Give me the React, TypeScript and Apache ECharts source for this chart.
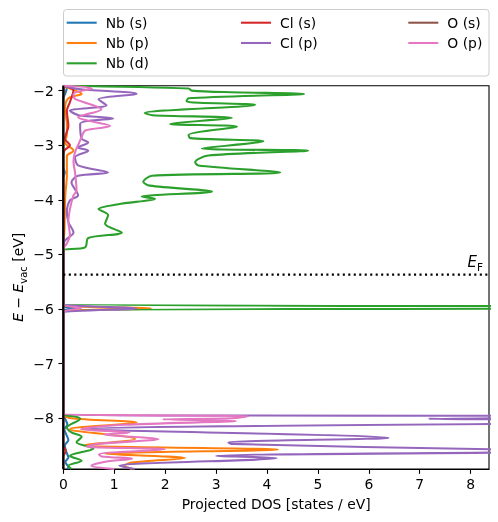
import React, { useEffect, useRef } from 'react';
import * as echarts from 'echarts';

// [DOS (states/eV), E - E_vac (eV)] pairs
const nbS: number[][] = [
  [0, -1.91], [0.07, -1.95], [0.04, -2.05], [0, -2.15], [0, -2.25], [0, -3.3], [0, -3.4], [0.03, -3.5], [0, -3.6],
  [0, -3.7], [0, -5.85], [0, -5.95], [0.23, -5.99], [0, -6.03], [0, -6.13], [0, -7.83], [0, -7.93],
  [0.03, -8.0], [0.08, -8.12], [0.02, -8.2], [0.06, -8.3], [0.1, -8.4], [0.03, -8.5], [0.06, -8.62],
  [0.1, -8.72], [0.04, -8.8], [0.1, -8.9], [0.08, -8.93],
];
const nbP: number[][] = [
  [0, -1.91], [0.07, -1.94], [0.36, -2.06], [0.1, -2.14], [0.03, -2.35], [0.07, -2.6], [0.07, -2.8],
  [0.03, -2.95], [0.2, -3.1], [0.07, -3.2], [0.07, -3.56], [0.04, -3.9], [0.03, -4.2], [0.02, -4.6],
  [0, -4.85], [0, -4.95], [0, -5.83], [0, -5.93], [1.72, -5.99], [0, -6.05], [0, -6.15], [0, -7.83],
  [0, -7.93], [0.15, -8.0], [1.44, -8.08], [0.13, -8.2], [1.41, -8.38], [0.43, -8.49], [4.22, -8.575],
  [0.82, -8.65], [2.39, -8.73], [1.34, -8.81], [1.2, -8.87], [1.35, -8.93],
];
const nbD: number[][] = [
  [0, -1.91], [2.46, -1.96], [2.52, -2.0], [3.3, -2.03], [4.73, -2.06], [2.46, -2.14], [2.42, -2.2],
  [3.77, -2.26], [1.6, -2.41], [1.75, -2.45], [3.31, -2.5], [2.1, -2.61], [3.41, -2.66], [2.46, -2.81],
  [2.49, -2.87], [3.93, -2.93], [2.72, -3.06], [4.81, -3.1], [2.85, -3.19], [2.59, -3.31], [2.65, -3.37],
  [4.26, -3.5], [1.74, -3.56], [1.57, -3.67], [1.7, -3.74], [2.92, -3.85], [1.54, -3.94], [1.8, -3.98],
  [1.08, -4.08], [0.69, -4.17], [0.88, -4.28], [0.82, -4.44], [1.15, -4.6], [0.49, -4.7], [0.43, -4.87],
  [0, -4.92], [0, -5.0], [0, -5.83], [0, -5.91], [20, -5.97], [0, -6.03], [0, -6.11], [0, -7.85],
  [0, -7.93], [0.23, -7.97], [0.33, -8.01], [0.07, -8.17], [0.16, -8.26], [0.36, -8.34], [0.26, -8.44],
  [0.59, -8.56], [0.36, -8.62], [0.13, -8.69], [0.36, -8.78], [0.1, -8.87], [0.16, -8.93],
];
const clS: number[][] = [
  [0, -1.91], [0.2, -2.0], [0.13, -2.21], [0.07, -2.37], [0.1, -2.65], [0.03, -2.88], [0.13, -3.0],
  [0.02, -3.1], [0, -3.2], [0, -3.3], [0, -8.4], [0, -8.5], [0.05, -8.6], [0, -8.7], [0, -8.8], [0, -8.93],
];
const clP: number[][] = [
  [0, -1.91], [0.3, -1.97], [1.44, -2.06], [0.69, -2.16], [0.85, -2.27], [0.13, -2.37], [0.3, -2.45],
  [0.98, -2.51], [0.33, -2.61], [0.36, -2.88], [0.49, -2.95], [0.29, -3.04], [0.49, -3.1], [0.23, -3.22],
  [0.29, -3.37], [0.88, -3.5], [0.29, -3.56], [0.16, -3.68], [0.29, -3.92], [0.13, -4.01], [0.07, -4.23],
  [0.1, -4.41], [0.2, -4.6], [0.03, -4.75], [0, -4.9], [0, -5.0], [0, -5.81], [0, -5.91], [1.44, -5.99],
  [0, -6.07], [0, -6.17], [0, -7.85], [0, -7.93], [14, -7.965], [7.17, -8.01], [14, -8.05], [0.4, -8.2],
  [6.39, -8.36], [3.24, -8.44], [3.3, -8.47], [8.5, -8.57], [14, -8.6], [8.5, -8.63], [3.0, -8.69],
  [4.19, -8.73], [1.1, -8.87], [1.4, -8.93],
];
const oS: number[][] = [
  [0, -1.91], [0.02, -2.0], [0, -2.2], [0, -2.3], [0, -8.93],
];
const oP: number[][] = [
  [0, -1.91], [0.56, -1.96], [0.2, -2.06], [0.23, -2.15], [0.75, -2.34], [0.29, -2.49], [0.92, -2.65],
  [0.43, -2.73], [0.36, -2.85], [0.29, -3.0], [0.23, -3.13], [0.2, -3.3], [0.23, -3.5], [0.26, -3.83],
  [0.2, -3.92], [0.13, -4.17], [0.1, -4.4], [0.13, -4.65], [0.07, -4.8], [0, -4.9], [0, -5.0], [0, -5.82],
  [0, -5.92], [0.35, -5.98], [0, -6.05], [0, -6.15], [0, -7.84], [0, -7.92], [3.63, -7.965], [3.3, -8.0],
  [1.95, -8.02], [3.4, -8.05], [1.2, -8.12], [0.35, -8.2], [1.3, -8.26], [0.8, -8.3], [1.87, -8.38],
  [0.7, -8.47], [0.45, -8.52], [2.0, -8.57], [0.7, -8.66], [0.75, -8.7], [1.35, -8.74], [0.8, -8.8],
  [0.55, -8.87], [1.0, -8.93],
];

const seriesNames = ['Nb (s)', 'Nb (p)', 'Nb (d)', 'Cl (s)', 'Cl (p)', 'O (s)', 'O (p)'];
const seriesColors = ['#1f77b4', '#ff7f0e', '#2ca02c', '#d62728', '#9467bd', '#8c564b', '#e377c2'];
const seriesData = [nbS, nbP, nbD, clS, clP, oS, oP];

const xTicks = [0, 1, 2, 3, 4, 5, 6, 7, 8];
const yTicks = [-8, -7, -6, -5, -4, -3, -2];
const fermiLevel = -5.37;
const xMin = 0;
const xMax = 8.36;
const yMin = -8.93;
const yMax = -1.91;

const FONT = 'DejaVu Sans';
const FS = 13.9;
const LW = 2.08;

export default function App() {
  const ref = useRef<HTMLDivElement>(null);
  useEffect(() => {
    const chart = echarts.init(ref.current!, null, { renderer: 'svg' });
    const lines = seriesData.map((d, i) => ({
      type: 'line',
      name: seriesNames[i],
      data: d,
      symbol: 'none',
      showSymbol: false,
      smooth: 0.3,
      clip: true,
      lineStyle: { color: seriesColors[i], width: LW },
      itemStyle: { color: seriesColors[i] },
      z: 2,
    }));
    const fermi = {
      type: 'line',
      name: 'EF',
      data: [[xMin, fermiLevel], [xMax, fermiLevel]],
      symbol: 'none',
      lineStyle: { color: '#000', width: LW, type: [2.08, 3.4] },
      z: 3,
      silent: true,
    };
    const legendCommon = {
      orient: 'vertical',
      top: 15.7,
      padding: 0,
      itemWidth: 30,
      itemHeight: 14,
      itemGap: 6.3,
      selectedMode: false,
      icon: 'path://M0 0H30V2.08H0Z',
      symbolKeepAspect: true,
      textStyle: { fontFamily: FONT, fontSize: FS, color: '#000', padding: [0, 0, 0, 4] },
    };
    const richBase = {
      i: { fontFamily: FONT, fontSize: FS, fontStyle: 'italic', color: '#000', lineHeight: 20 },
      n: { fontFamily: FONT, fontSize: FS, color: '#000', lineHeight: 20 },
      s: { fontFamily: FONT, fontSize: 10, color: '#000', lineHeight: 12, verticalAlign: 'bottom' },
    };
    const richBig = {
      i: { fontFamily: FONT, fontSize: 15, fontStyle: 'italic', color: '#000', lineHeight: 20 },
      s: { fontFamily: FONT, fontSize: 10.5, color: '#000', lineHeight: 12, verticalAlign: 'bottom' },
    };
    const fmt = (v: number) => (v < 0 ? '\u2212' + String(-v) : String(v));
    chart.setOption({
      animation: false,
      grid: {
        left: 63.3, right: 9, top: 85.7, bottom: 53,
        show: true, borderColor: '#000', borderWidth: 1.1, containLabel: false,
      },
      xAxis: {
        type: 'value', min: xMin, max: xMax,
        axisLine: { show: true, onZero: false, lineStyle: { color: '#000', width: 1.1 } },
        axisTick: { show: true, length: 4.86, customValues: xTicks, lineStyle: { color: '#000', width: 1.1 } },
        axisLabel: { customValues: xTicks, margin: 8, color: '#000', fontSize: FS, fontFamily: FONT, formatter: fmt },
        splitLine: { show: false },
        name: 'Projected DOS [states / eV]',
        nameLocation: 'middle',
        nameGap: 28,
        nameTextStyle: { fontFamily: FONT, fontSize: FS, color: '#000' },
      },
      yAxis: {
        type: 'value', min: yMin, max: yMax,
        axisLine: { show: true, onZero: false, lineStyle: { color: '#000', width: 1.1 } },
        axisTick: { show: true, length: 4.86, customValues: yTicks, lineStyle: { color: '#000', width: 1.1 } },
        axisLabel: { customValues: yTicks, margin: 9.5, color: '#000', fontSize: FS, fontFamily: FONT, formatter: fmt },
        splitLine: { show: false },
      },
      legend: [
        { ...legendCommon, left: 66.7, data: seriesNames.slice(0, 3) },
        { ...legendCommon, left: 241, data: seriesNames.slice(3, 5) },
        { ...legendCommon, left: 408.3, data: seriesNames.slice(5, 7) },
      ],
      graphic: [
        {
          type: 'rect', z: -1, silent: true,
          shape: { x: 63.5, y: 9.5, width: 425.5, height: 66.5, r: 3 },
          style: { fill: 'rgba(255,255,255,0.8)', stroke: '#cccccc', lineWidth: 1 },
        },
        {
          // left spine drawn above the curves, as matplotlib does
          type: 'line', z: 100, silent: true,
          shape: { x1: 63.3, y1: 85.7, x2: 63.3, y2: 469 },
          style: { stroke: '#000', lineWidth: 2.1 },
        },
        {
          type: 'text', x: 18, y: 277.3, rotation: Math.PI / 2, silent: true,
          style: {
            text: '{i|E}{n| \u2212 }{i|E}{s|vac}{n| [eV]}',
            rich: richBase, align: 'center', verticalAlign: 'middle',
            fontFamily: FONT, fontSize: FS, fill: '#000',
          },
        },
        {
          type: 'text', x: 483, y: 262, silent: true, z: 10,
          style: {
            text: '{i|E}{s|F}',
            rich: richBig, align: 'right', verticalAlign: 'middle',
            fontFamily: FONT, fontSize: 15, fill: '#000',
          },
        },
      ],
      series: [...lines, fermi],
    });
    return () => chart.dispose();
  }, []);
  return <div ref={ref} style={{ position: 'fixed', left: 0, top: 0, width: 498, height: 522 }} />;
}
